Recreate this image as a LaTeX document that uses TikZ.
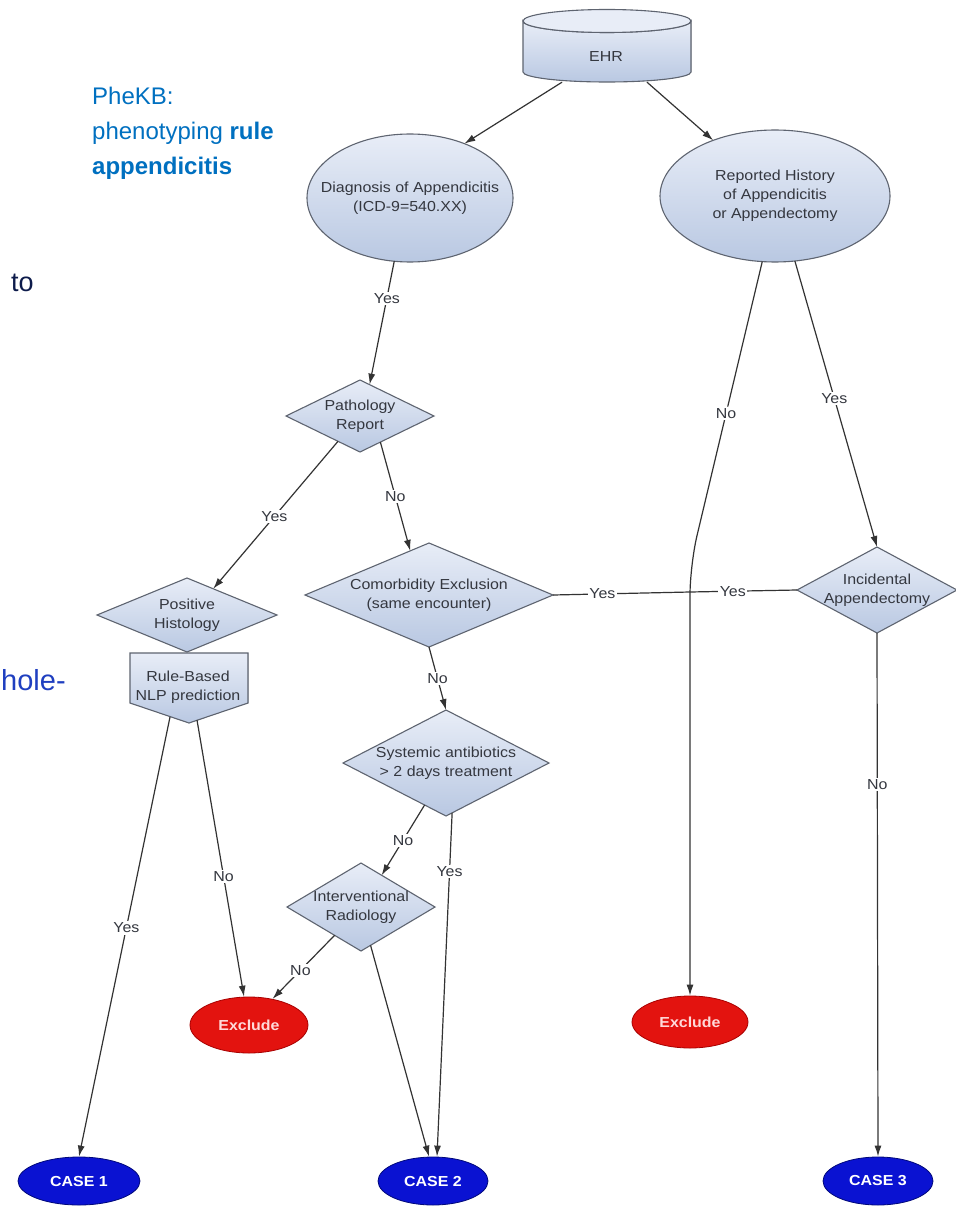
\documentclass[tikz,border=0pt]{standalone}
\usepackage{fontspec}
\setmainfont{Liberation Sans}
\newfontfamily\dfont[FakeStretch=1.1]{Liberation Sans}
\usetikzlibrary{shapes.geometric,arrows.meta}
\definecolor{nodetop}{HTML}{E8EDF7}
\definecolor{nodebot}{HTML}{B9C8E2}
\definecolor{nodeline}{HTML}{5E6470}
\definecolor{linegray}{HTML}{333333}
\definecolor{txtgray}{HTML}{34373F}
\definecolor{exred}{HTML}{E3130F}
\definecolor{exredline}{HTML}{A80000}
\definecolor{caseblue}{HTML}{0A12D2}
\definecolor{caseline}{HTML}{00087A}
\definecolor{phekb}{HTML}{0070C0}
\definecolor{slidenavy}{HTML}{0D1B4B}
\definecolor{slideblue}{HTML}{1F3FC0}
\begin{document}
\begin{tikzpicture}[x=1pt,y=-1pt,
  dtext/.style={font=\dfont\fontsize{14.5}{19}\selectfont, text=txtgray, align=center, inner sep=0pt},
  boxfill/.style={draw=nodeline, line width=1.1pt, top color=nodetop, bottom color=nodebot},
  ell/.style={ellipse, boxfill, inner sep=0pt, outer sep=0pt},
  dia/.style={diamond, boxfill, inner sep=0pt, outer sep=0pt},
  exclude/.style={ellipse, draw=exredline, line width=0.8pt, fill=exred, inner sep=0pt,
    minimum width=118pt, minimum height=56pt,
    font=\dfont\bfseries\fontsize{14.5}{16}\selectfont, text=red!15!white},
  casenode/.style={ellipse, draw=caseline, line width=0.8pt, fill=caseblue, inner sep=0pt,
    minimum height=48pt, font=\dfont\bfseries\fontsize{14.5}{16}\selectfont, text=white},
  conn/.style={draw=linegray, line width=1.2pt, -{Latex[length=11pt,width=7pt]}},
  plain/.style={draw=linegray, line width=1.2pt},
  lbl/.style={fill=white, inner sep=1.5pt, font=\dfont\fontsize{14.5}{16}\selectfont, text=txtgray}
]
\fill[white] (0,0) rectangle (955,1206);
\useasboundingbox (0,0) rectangle (955,1206);

% slide text around the flowchart
\node[anchor=north west, align=left, inner sep=0pt, text=phekb,
      font=\fontsize{24}{35}\selectfont] (title) at (92,87)
  {PheKB:\\phenotyping \textbf{rule}\\\textbf{appendicitis}};
\node[anchor=base west, inner sep=0pt, text=slidenavy, font=\fontsize{27}{30}\selectfont] (to) at (11,291) {to};
\node[anchor=base west, inner sep=0pt, text=slideblue, font=\fontsize{29}{30}\selectfont] (hole) at (1,690) {hole-};

% EHR data store
\filldraw[boxfill] (523,21) -- (523,72) arc[start angle=180, end angle=0, x radius=84, y radius=10]
  -- (691,21) arc[start angle=0, end angle=180, x radius=84, y radius=11.5] -- cycle;
\filldraw[draw=nodeline, line width=1.1pt, fill=nodetop]
  (607,21) ellipse[x radius=84, y radius=11.5];
\node[minimum width=168pt, minimum height=72pt, inner sep=0pt] (ehr) at (607,46) {};
\node[dtext] (ehrtext) at (606,57) {EHR};

% first-level ellipses
\node[ell, minimum width=206pt, minimum height=128pt,
      label={[dtext]center:Diagnosis of Appendicitis\\(ICD-9=540.XX)}] (diag) at (410,198) {};
\node[ell, minimum width=230pt, minimum height=132pt,
      label={[dtext]center:Reported History\\of Appendicitis\\or Appendectomy}] (hist) at (775,196) {};

% decisions
\node[dia, minimum width=148pt, minimum height=72pt,
      label={[dtext]center:Pathology\\Report}] (path) at (360,416) {};
\node[dia, minimum width=180pt, minimum height=74pt,
      label={[dtext]center:Positive\\Histology}] (pos) at (187,615) {};
\node[dia, minimum width=248pt, minimum height=104pt,
      label={[dtext]center:Comorbidity Exclusion\\(same encounter)}] (com) at (429,595) {};
\node[dia, minimum width=160pt, minimum height=86pt,
      label={[dtext]center:Incidental\\Appendectomy}] (inc) at (877,590) {};
\node[dia, minimum width=206pt, minimum height=106pt,
      label={[dtext]center:Systemic antibiotics\\> 2 days treatment}] (sys) at (446,763) {};
\node[dia, minimum width=148pt, minimum height=88pt,
      label={[dtext]center:Interventional\\Radiology}] (ir) at (361,907) {};

% NLP off-page block
\filldraw[boxfill] (130,653) -- (248,653) -- (248,703) -- (189,723) -- (130,703) -- cycle;
\node[dtext] (nlp) at (188,687) {Rule-Based\\NLP prediction};
\coordinate (nlpL) at (170,717);
\coordinate (nlpR) at (197,720);

% outcomes
\node[exclude] (exl) at (249,1025) {Exclude};
\node[exclude, minimum width=116pt, minimum height=52pt] (exr) at (690,1022) {Exclude};
\node[casenode, minimum width=122pt] (case1) at (79,1181) {CASE 1};
\node[casenode, minimum width=110pt] (case2) at (433,1181) {CASE 2};
\node[casenode, minimum width=110pt] (case3) at (878,1181) {CASE 3};

% connectors
\coordinate (j) at (690,592);
\coordinate (bend) at (690,565);
\draw[conn] ([xshift=-45pt]ehr.south) -- (diag.45);
\draw[conn] ([xshift=40pt]ehr.south) -- (hist.138);
\draw[conn] (diag.-104) -- node[lbl,pos=.3]{Yes} (path.73);
\draw[conn] (path.-131) -- node[lbl,pos=.51]{Yes} (pos.45);
\draw[conn] (path.-52) -- node[lbl,pos=.5]{No} (com.113);
\draw[plain] (com.east) -- node[lbl,pos=.36]{Yes} (j);
\draw[plain] (inc.west) -- node[lbl,pos=.6]{Yes} (j);
\draw[conn, rounded corners=30pt] (hist.-101) -- node[lbl,pos=.5]{No} (bend) -- (exr.north);
\draw[conn] (hist.-73) -- node[lbl,pos=.48]{Yes} (inc.north);
\draw[conn] (inc.south) -- node[lbl,pos=.29]{No} (case3.north);
\draw[conn] (com.south) -- node[lbl,pos=.5]{No} (sys.north);
\draw[conn] (sys.-117) -- node[lbl,pos=.5]{No} (ir.57);
\draw[conn] (sys.-83) -- node[lbl,pos=.17]{Yes} ([xshift=4pt]case2.north);
\draw[conn] (ir.-76) -- ([xshift=-4pt]case2.north);
\draw[conn] (ir.-133) -- node[lbl,pos=.55]{No} (exl.48);
\draw[conn] (nlpR) -- node[lbl,pos=.565]{No} (exl.100);
\draw[conn] (nlpL) -- node[lbl,pos=.48]{Yes} (case1.north);
\end{tikzpicture}
\end{document}
